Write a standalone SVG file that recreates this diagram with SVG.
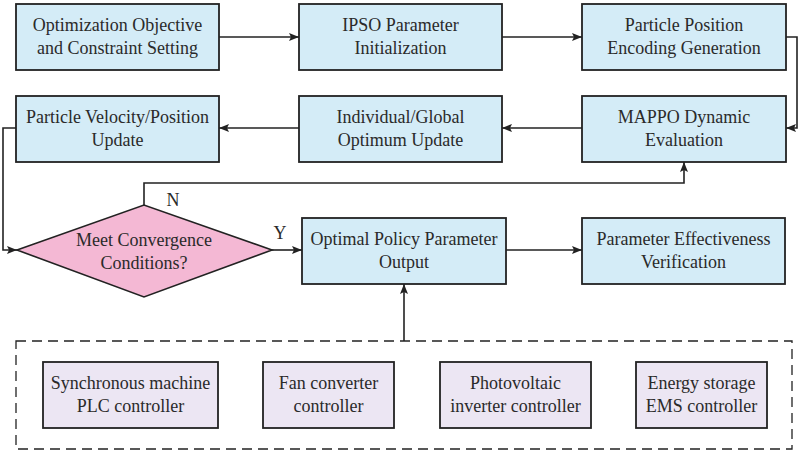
<svg xmlns="http://www.w3.org/2000/svg" width="800" height="453" viewBox="0 0 800 453">
<style>
.b{fill:#d4ecf7;stroke:#222;stroke-width:1.8}
.p{fill:#ece6f3;stroke:#222;stroke-width:1.8}
.d{fill:#f4b8d4;stroke:#222;stroke-width:1.6}
.t{font-family:"Liberation Serif","Times New Roman",serif;font-size:18px;fill:#2a2a2a;text-anchor:middle}
.c{fill:none;stroke:#222;stroke-width:1.6}
</style>
<defs>
<marker id="ah" viewBox="0 0 10 10" refX="10" refY="5" markerWidth="10" markerHeight="10" markerUnits="userSpaceOnUse" orient="auto">
<path d="M0,1 L10,5 L0,9 L2,5 Z" fill="#222"/>
</marker>
</defs>
<rect width="800" height="453" fill="#fff"/>
<g id="connectors">
<path class="c" d="M219,37 H299" marker-end="url(#ah)"/>
<path class="c" d="M502,37 H582" marker-end="url(#ah)"/>
<path class="c" d="M786,37 H797 V128 H786" marker-end="url(#ah)"/>
<path class="c" d="M582,128 H502" marker-end="url(#ah)"/>
<path class="c" d="M299,128 H219" marker-end="url(#ah)"/>
<path class="c" d="M16,128 H3 V250 H17" marker-end="url(#ah)"/>
<path class="c" d="M144,205 V183 H684 V162" marker-end="url(#ah)"/>
<path class="c" d="M272,250 H302" marker-end="url(#ah)"/>
<path class="c" d="M506,250 H582" marker-end="url(#ah)"/>
<path class="c" d="M404,341 V284" marker-end="url(#ah)"/>
<text class="t" x="173" y="206">N</text>
<text class="t" x="280" y="239">Y</text>
</g>
<g id="n1"><rect class="b" x="16" y="4" width="203" height="66"/><text class="t" x="117.5" y="31">Optimization Objective</text><text class="t" x="117.5" y="54">and Constraint Setting</text></g>
<g id="n2"><rect class="b" x="299" y="4" width="203" height="66"/><text class="t" x="400.5" y="31">IPSO Parameter</text><text class="t" x="400.5" y="54">Initialization</text></g>
<g id="n3"><rect class="b" x="582" y="4" width="204" height="66"/><text class="t" x="684" y="31">Particle Position</text><text class="t" x="684" y="54">Encoding Generation</text></g>
<g id="n4"><rect class="b" x="16" y="96" width="203" height="66"/><text class="t" x="117.5" y="123">Particle Velocity/Position</text><text class="t" x="117.5" y="146">Update</text></g>
<g id="n5"><rect class="b" x="299" y="96" width="203" height="66"/><text class="t" x="400.5" y="123">Individual/Global</text><text class="t" x="400.5" y="146">Optimum Update</text></g>
<g id="n6"><rect class="b" x="582" y="96" width="204" height="66"/><text class="t" x="684" y="123">MAPPO Dynamic</text><text class="t" x="684" y="146">Evaluation</text></g>
<g id="n7"><polygon class="d" points="17,250 144,205 272,250 144,297"/><text class="t" x="144" y="246">Meet Convergence</text><text class="t" x="144" y="269">Conditions?</text></g>
<g id="n8"><rect class="b" x="302" y="218" width="204" height="66"/><text class="t" x="404" y="245">Optimal Policy Parameter</text><text class="t" x="404" y="268">Output</text></g>
<g id="n9"><rect class="b" x="582" y="218" width="203" height="66"/><text class="t" x="683.5" y="245">Parameter Effectiveness</text><text class="t" x="683.5" y="268">Verification</text></g>
<g id="group"><rect x="16" y="341" width="776" height="108" fill="none" stroke="#222" stroke-width="1.3" stroke-dasharray="10,6"/></g>
<g id="c1"><rect class="p" x="43" y="362" width="175" height="66"/><text class="t" x="130.5" y="389">Synchronous machine</text><text class="t" x="130.5" y="412">PLC controller</text></g>
<g id="c2"><rect class="p" x="263" y="362" width="131" height="66"/><text class="t" x="328.5" y="389">Fan converter</text><text class="t" x="328.5" y="412">controller</text></g>
<g id="c3"><rect class="p" x="440" y="362" width="151" height="66"/><text class="t" x="515.5" y="389">Photovoltaic</text><text class="t" x="515.5" y="412">inverter controller</text></g>
<g id="c4"><rect class="p" x="636" y="362" width="131" height="66"/><text class="t" x="701.5" y="389">Energy storage</text><text class="t" x="701.5" y="412">EMS controller</text></g>
</svg>
